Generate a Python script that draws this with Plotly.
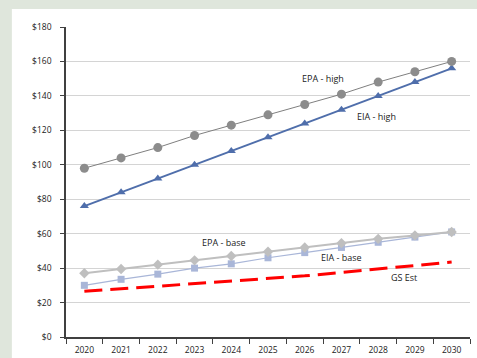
import plotly.graph_objects as go

years = [str(y) for y in range(2020, 2031)]
epa_high = [98, 104, 110, 117, 123, 129, 135, 141, 148, 154, 160]
eia_high = [76, 84, 92, 100, 108, 116, 124, 132, 140, 148, 156]
epa_base = [37, 39.5, 42, 44.5, 47, 49.5, 52, 54.5, 57, 59, 61]
eia_base = [30, 33.5, 36.5, 40, 42.5, 46, 49, 52, 55, 58, 61]
gs_est = [26.5, 28, 29.5, 31, 32.5, 34, 35.5, 37.5, 39.5, 41.5, 43.5]

y_ticks = list(range(0, 181, 20))
y_labels = [f"${v}" for v in y_ticks]

FONT = "Open Sans, Lato, sans-serif"

fig = go.Figure()
fig.add_trace(go.Scatter(x=years, y=gs_est, mode="lines", name="GS Est",
                         line=dict(color="#ff0000", width=3, dash="18px,8px")))
fig.add_trace(go.Scatter(x=years, y=eia_base, mode="lines+markers", name="EIA - base",
                         line=dict(color="#a9b6d8", width=1.2),
                         marker=dict(symbol="square", size=7, color="#a9b6d8")))
fig.add_trace(go.Scatter(x=years, y=epa_base, mode="lines+markers", name="EPA - base",
                         line=dict(color="#bfbfbf", width=2),
                         marker=dict(symbol="diamond", size=8, color="#bfbfbf")))
fig.add_trace(go.Scatter(x=years, y=eia_high, mode="lines+markers", name="EIA - high",
                         line=dict(color="#4f6eab", width=2),
                         marker=dict(symbol="triangle-up", size=8, color="#4f6eab")))
fig.add_trace(go.Scatter(x=years, y=epa_high, mode="lines+markers", name="EPA - high",
                         line=dict(color="#7f7f7f", width=1),
                         marker=dict(symbol="circle", size=9, color="#8c8c8c")))

# (label, category index, y value)
labels = [
    ("EPA - high", 6.5, 150),
    ("EIA - high", 7.95, 128),
    ("EPA - base", 3.8, 55),
    ("EIA - base", 7.0, 46),
    ("GS Est", 8.7, 34.5),
]
for text, xx, yy in labels:
    fig.add_annotation(x=xx, y=yy, text=text, showarrow=False,
                       font=dict(family=FONT, size=9, color="#222222"))

fig.add_shape(type="rect", xref="paper", yref="paper",
              x0=-0.134, x1=1.03, y0=-0.08, y1=1.058,
              fillcolor="white", line=dict(width=0), layer="below")

fig.update_layout(
    width=477, height=358,
    margin=dict(l=66, r=7, t=27, b=21),
    paper_bgcolor="#dfe6dc",
    plot_bgcolor="white",
    showlegend=False,
    font=dict(family=FONT, size=9, color="#222222"),
    xaxis=dict(type="category", tickson="boundaries", ticks="outside",
               ticklen=5, tickcolor="#404040", showline=True, linecolor="#404040",
               linewidth=1.5, showgrid=False, tickfont=dict(size=8.5), range=[-0.5, 10.5],
               ticklabelstandoff=4, automargin=False),
    yaxis=dict(range=[0, 180], tickvals=y_ticks, ticktext=y_labels, ticks="outside",
               ticklen=4, tickcolor="#404040", showline=True, linecolor="#404040",
               linewidth=1.5, showgrid=True, gridcolor="#d4d4d4", gridwidth=1,
               zeroline=False, tickfont=dict(size=8.5), ticklabelstandoff=7,
               automargin=False),
)

fig.write_html("out.html", config={"displayModeBar": False},
               post_script="document.body.style.margin='0';document.body.style.background='#dfe6dc';")
